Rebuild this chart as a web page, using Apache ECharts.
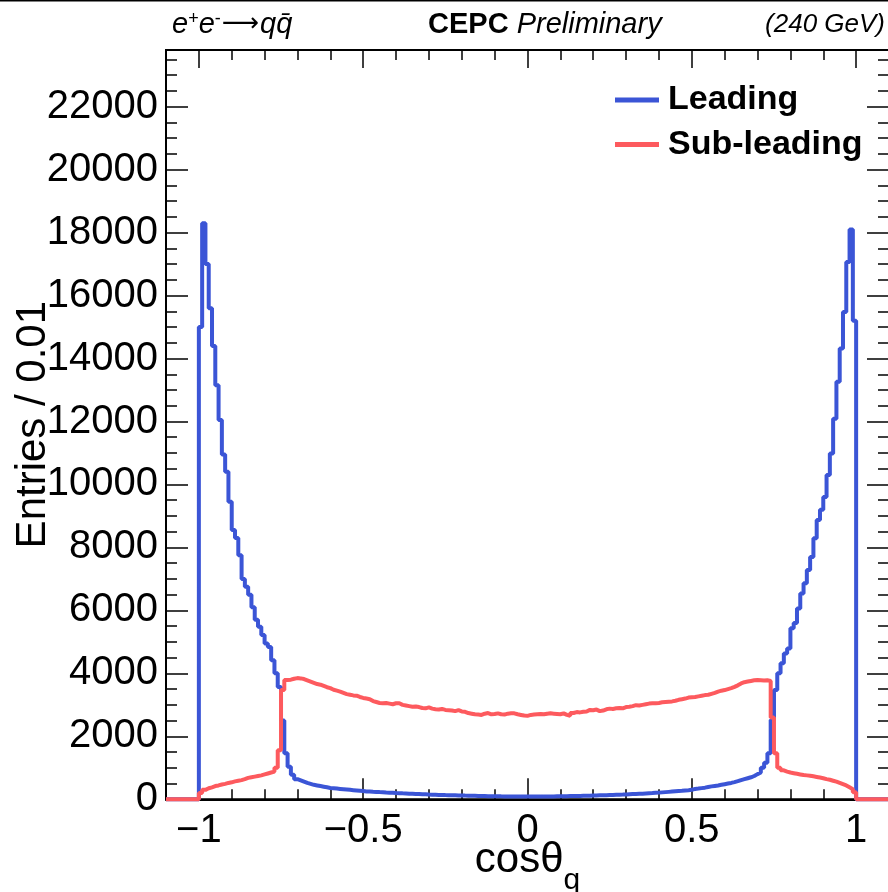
<!DOCTYPE html>
<html>
<head>
<meta charset="utf-8">
<script src="https://cdn.jsdelivr.net/npm/echarts@6/dist/echarts.min.js"></script>
<style>
  html, body { margin: 0; padding: 0; background: #fff; }
  #chart { width: 888px; height: 892px; }
</style>
</head>
<body>
<div id="chart"></div>
<script>
// Histogram binning: 0.01 wide bins, filled only between -1 and 1
const binWidth = 0.01;
const rangeMin = -1.1;
const rangeMax = 1.1;
const filledMin = -1.0;

// Entries per bin for the leading quark, bins from -1.00 up to 0.99
const leading = [
  15000, 18300, 17000, 15600, 14400, 13150, 12050, 10950, 10400, 9450,
  8550, 8300, 7750, 7000, 6750, 6500, 6100, 5700, 5480, 5220,
  4950, 4840, 4420, 4000, 3570, 2500, 1460, 1030, 780, 640,
  600, 560, 520, 490, 460, 440, 420, 400, 380, 360,
  350, 340, 330, 320, 310, 300, 290, 280, 270, 260,
  250, 248, 240, 233, 228, 222, 215, 210, 205, 200,
  196, 190, 186, 180, 176, 170, 166, 160, 157, 152,
  148, 145, 140, 138, 134, 131, 128, 125, 122, 120,
  117, 115, 112, 110, 107, 105, 103, 100, 98, 97,
  95, 93, 92, 91, 90, 88, 88, 87, 86, 86,
  86, 87, 87, 88, 89, 90, 91, 92, 94, 95,
  97, 99, 101, 103, 106, 108, 111, 113, 116, 119,
  122, 125, 128, 131, 135, 138, 142, 146, 150, 155,
  160, 165, 170, 175, 180, 186, 192, 198, 205, 212,
  220, 228, 236, 244, 252, 260, 268, 278, 288, 300,
  330, 340, 355, 370, 390, 410, 425, 440, 460, 480,
  500, 520, 545, 575, 610, 640, 670, 700, 740, 800,
  850, 1000, 1160, 1460, 2520, 3470, 4000, 4320, 4630, 4790,
  5430, 5600, 6060, 6540, 6860, 7280, 7700, 8290, 8870, 9200,
  9600, 10300, 10980, 12090, 13260, 14320, 15480, 17070, 18100, 15200
];

// Entries per bin for the sub-leading quark, bins from -1.00 up to 0.99
const subLeading = [
  200, 300, 350, 380, 420, 440, 470, 490, 520, 540,
  570, 590, 610, 640, 680, 700, 720, 740, 760, 790,
  820, 850, 880, 1000, 1560, 3470, 3790, 3800, 3830, 3850,
  3840, 3820, 3780, 3740, 3700, 3660, 3640, 3600, 3560, 3530,
  3480, 3450, 3420, 3380, 3340, 3320, 3300, 3290, 3250, 3220,
  3200, 3180, 3120, 3090, 3060, 3050, 3060, 3040, 3020, 3050,
  3050, 3000, 2980, 2960, 2940, 2950, 2930, 2900, 2890, 2920,
  2880, 2860, 2850, 2870, 2840, 2830, 2820, 2800, 2830, 2790,
  2780, 2740, 2720, 2700, 2690, 2680, 2720, 2740, 2700, 2710,
  2730, 2700, 2690, 2720, 2730, 2730, 2700, 2680, 2660, 2650,
  2680, 2690, 2700, 2710, 2700, 2720, 2730, 2720, 2710, 2700,
  2730, 2680, 2650, 2740, 2770, 2760, 2780, 2790, 2840, 2830,
  2850, 2800, 2820, 2860, 2880, 2870, 2890, 2900, 2890, 2930,
  2940, 2960, 2990, 2980, 3000, 3020, 3040, 3050, 3050, 3060,
  3080, 3090, 3100, 3110, 3130, 3160, 3180, 3200, 3230, 3240,
  3250, 3270, 3290, 3310, 3320, 3350, 3380, 3420, 3450, 3470,
  3500, 3530, 3570, 3620, 3680, 3720, 3740, 3760, 3780, 3790,
  3780, 3770, 3780, 3760, 2600, 1460, 1000, 920, 880, 850,
  830, 810, 790, 770, 760, 750, 730, 710, 690, 670,
  640, 620, 590, 560, 520, 480, 440, 380, 320, 220
];

const seriesNames = ['Leading', 'Sub-leading'];
const seriesColors = ['#3b55d6', '#fd5a5e'];

// Axis ticks and labels
const xMajorTicks = [-1, -0.5, 0, 0.5, 1];
const xMinorTicks = [-1, -0.9, -0.8, -0.7, -0.6, -0.5, -0.4, -0.3, -0.2, -0.1, 0,
  0.1, 0.2, 0.3, 0.4, 0.5, 0.6, 0.7, 0.8, 0.9, 1];
const yMax = 23800;
const yMajorStep = 2000;
const yMinorStep = 500;

const FONT = '"Liberation Sans", Arial, Helvetica, sans-serif';

// Turn per-bin counts into step-line vertices on the bin edges
function histogramPoints(counts) {
  const nBins = Math.round((rangeMax - rangeMin) / binWidth);
  const offset = Math.round((filledMin - rangeMin) / binWidth);
  const pts = [];
  for (let k = 0; k < nBins; k++) {
    const edge = +(rangeMin + k * binWidth).toFixed(2);
    const j = k - offset;
    const v = (j >= 0 && j < counts.length) ? counts[j] : 0;
    pts.push([edge, v]);
  }
  pts.push([rangeMax, 0]);
  return pts;
}

function fmtX(v) {
  if (Math.abs(v) < 1e-9) return '0';
  const s = String(Math.abs(+v.toFixed(2)));
  return v < 0 ? '\u2212' + s : s;
}

const chart = echarts.init(document.getElementById('chart'), null, { renderer: 'canvas' });

const tickLine = { color: '#000', width: 1.5 };

const baseX = {
  type: 'value', min: rangeMin, max: rangeMax,
  splitLine: { show: false },
  axisLine: { show: false, onZero: false }
};
const baseY = {
  type: 'value', min: 0, max: yMax,
  splitLine: { show: false },
  axisLine: { show: false, onZero: false }
};

const option = {
  animation: false,
  backgroundColor: '#fff',
  textStyle: { fontFamily: FONT },
  grid: {
    left: 166, right: -1, top: 50, bottom: 92.7,
    containLabel: false, outerBoundsMode: 'none',
    show: true, borderColor: '#000', borderWidth: 2, backgroundColor: 'transparent'
  },
  legend: {
    orient: 'vertical', left: 615, top: 83, padding: 0, itemGap: 10.5,
    itemWidth: 44, itemHeight: 5, icon: 'rect',
    textStyle: { fontFamily: FONT, fontSize: 34, fontWeight: 'bold', color: '#000', lineHeight: 32, padding: [0, 0, 0, 4] },
    data: seriesNames
  },
  xAxis: [
    Object.assign({}, baseX, {
      position: 'bottom',
      axisLine: { show: true, onZero: false, lineStyle: { color: '#000', width: 2 } },
      axisTick: { show: true, inside: true, length: 21, lineStyle: tickLine, customValues: xMajorTicks },
      axisLabel: {
        show: true, margin: 12, color: '#000', fontSize: 40, fontFamily: FONT,
        customValues: xMajorTicks, formatter: fmtX
      },
      name: '{a|cos\u03b8}{b|q}', nameLocation: 'middle', nameGap: 40, nameMoveOverlap: false,
      nameTextStyle: {
        rich: {
          a: { fontSize: 42, fontFamily: FONT, color: '#000' },
          b: { fontSize: 30, fontFamily: FONT, color: '#000', verticalAlign: 'bottom', padding: [0, 0, -14, 0] }
        }
      }
    }),
    Object.assign({}, baseX, {
      position: 'bottom',
      axisTick: { show: true, inside: true, length: 10, lineStyle: tickLine, customValues: xMinorTicks },
      axisLabel: { show: false }
    }),
    Object.assign({}, baseX, {
      position: 'top',
      axisTick: { show: true, inside: true, length: 18, lineStyle: tickLine, customValues: xMajorTicks },
      axisLabel: { show: false }
    }),
    Object.assign({}, baseX, {
      position: 'top',
      axisTick: { show: true, inside: true, length: 10, lineStyle: tickLine, customValues: xMinorTicks },
      axisLabel: { show: false }
    })
  ],
  yAxis: [
    Object.assign({}, baseY, {
      position: 'left', interval: yMajorStep,
      axisLine: { show: true, onZero: false, lineStyle: { color: '#000', width: 2 } },
      axisTick: { show: true, inside: true, length: 22, lineStyle: tickLine },
      axisLabel: {
        show: true, margin: 8, color: '#000', fontSize: 40, fontFamily: FONT, showMaxLabel: false,
        formatter: function (v) { return String(v); }
      },
      name: 'Entries / 0.01', nameLocation: 'middle', nameGap: 112, nameRotate: 90, nameMoveOverlap: false,
      nameTextStyle: { fontSize: 42, fontFamily: FONT, color: '#000' }
    }),
    Object.assign({}, baseY, {
      position: 'left', interval: yMinorStep,
      axisTick: { show: true, inside: true, length: 11, lineStyle: tickLine },
      axisLabel: { show: false }
    }),
    Object.assign({}, baseY, {
      position: 'right', interval: yMajorStep,
      axisTick: { show: true, inside: true, length: 22, lineStyle: tickLine },
      axisLabel: { show: false }
    }),
    Object.assign({}, baseY, {
      position: 'right', interval: yMinorStep,
      axisTick: { show: true, inside: true, length: 11, lineStyle: tickLine },
      axisLabel: { show: false }
    })
  ],
  series: [
    {
      name: seriesNames[0], type: 'line', step: 'end', symbol: 'none', clip: false,
      xAxisIndex: 0, yAxisIndex: 0, color: seriesColors[0],
      lineStyle: { color: seriesColors[0], width: 4 },
      data: histogramPoints(leading), z: 3
    },
    {
      name: seriesNames[1], type: 'line', step: 'end', symbol: 'none', clip: false,
      xAxisIndex: 0, yAxisIndex: 0, color: seriesColors[1],
      lineStyle: { color: seriesColors[1], width: 4 },
      data: histogramPoints(subLeading), z: 4
    }
  ],
  graphic: [
    { type: 'rect', shape: { x: 0, y: 0, width: 888, height: 1.5 }, style: { fill: '#000' }, silent: true },
    {
      type: 'text', left: 172, top: 10,
      style: {
        text: '{i|e}{s|+}{i|e}{s|-}{r|\u27f6}{i|qq\u0304}',
        rich: {
          i: { fontSize: 29, fontStyle: 'italic', fontFamily: FONT, color: '#000' },
          s: { fontSize: 18, fontFamily: FONT, color: '#000', verticalAlign: 'top' },
          r: { fontSize: 26, fontFamily: '"DejaVu Sans", sans-serif', color: '#000', padding: [0, 1, 0, 1] }
        }
      }
    },
    {
      type: 'text', left: 428, top: 10,
      style: {
        text: '{b|CEPC}{i| Preliminary}',
        rich: {
          b: { fontSize: 29, fontWeight: 'bold', fontFamily: FONT, color: '#000' },
          i: { fontSize: 29, fontStyle: 'italic', fontFamily: FONT, color: '#000' }
        }
      }
    },
    {
      type: 'text', right: 3, top: 12,
      style: { text: '(240 GeV)', font: 'italic 26px ' + FONT, fill: '#000' }
    }
  ]
};

chart.setOption(option);
</script>
</body>
</html>
